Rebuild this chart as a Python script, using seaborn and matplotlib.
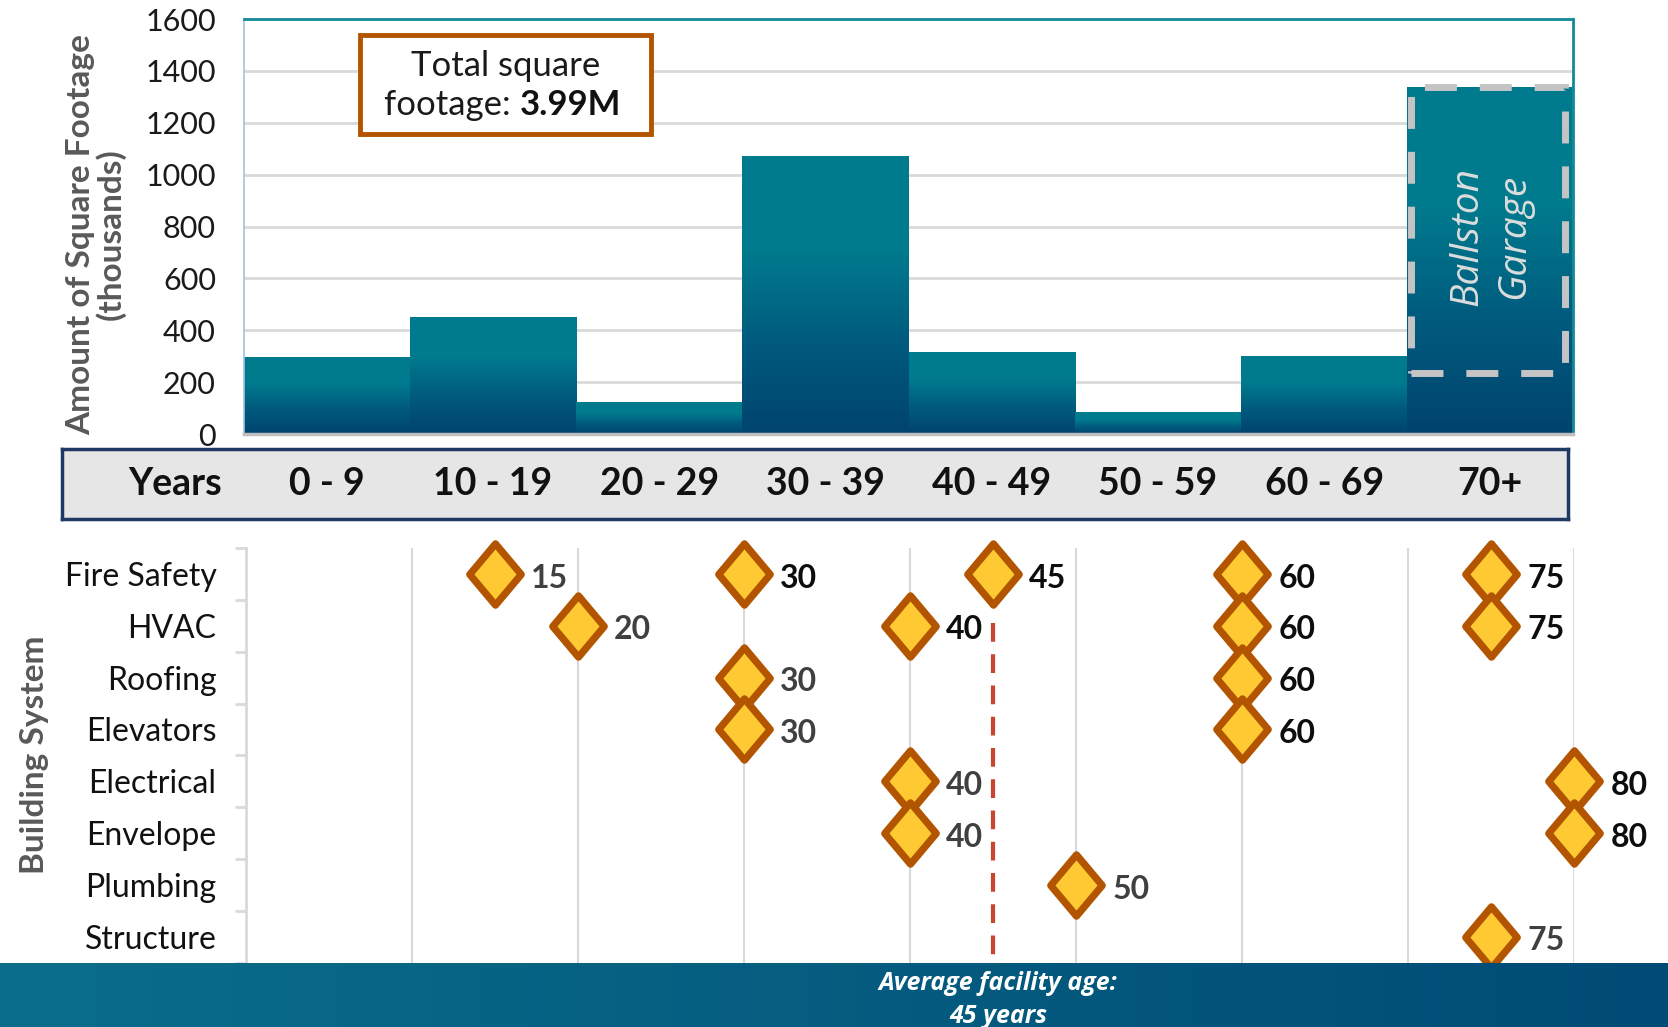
import numpy as np
import pandas as pd
import matplotlib
matplotlib.use("Agg")
import matplotlib.pyplot as plt
import seaborn as sns
from matplotlib.colors import LinearSegmentedColormap
from matplotlib.patches import Rectangle
from matplotlib.path import Path
from matplotlib.transforms import blended_transform_factory

# ---- data ----
decades = ["0 - 9", "10 - 19", "20 - 29", "30 - 39", "40 - 49", "50 - 59", "60 - 69", "70+"]
sqft = [295, 451, 123, 1071, 316, 82, 300, 1337]   # thousands of sq ft
garage_sqft = 1100                                 # Ballston Garage share of 70+
total_label = "3.99M"

systems = ["Fire Safety", "HVAC", "Roofing", "Elevators",
           "Electrical", "Envelope", "Plumbing", "Structure"]
pt_system = (["Fire Safety"] * 5 + ["HVAC"] * 4 + ["Roofing"] * 2 + ["Elevators"] * 2
             + ["Electrical"] * 2 + ["Envelope"] * 2 + ["Plumbing", "Structure"])
pt_age = [15, 30, 45, 60, 75,
          20, 40, 60, 75,
          30, 60,
          30, 60,
          40, 80,
          40, 80,
          50,
          75]
pt_dark = [False, True, True, True, True,
           False, True, True, True,
           False, True,
           False, True,
           False, True,
           False, True,
           False,
           False]
avg_age = 45

# ---- style ----
sns.set_theme(style="white")
plt.rcParams["font.family"] = ["Lato", "DejaVu Sans"]

TEAL = "#007B8E"
NAVY = "#00446F"
ORANGE = "#B35500"
YELLOW = "#FFC933"
GRID = "#D9D9D9"
LABEL_GRAY = "#595959"

W, H = 1668, 1027
fig = plt.figure(figsize=(W / 100, H / 100), dpi=100)
fig.patch.set_facecolor("white")

# ================= top chart =================
ax = fig.add_axes([0.1461, 0.5774, 0.9433 - 0.1461, 0.9814 - 0.5774])
sns.barplot(x=decades, y=sqft, width=1.0, color=TEAL, ax=ax, saturation=1)
bar_cmap = LinearSegmentedColormap.from_list("bar", [NAVY, "#005B7E", TEAL, TEAL])
grad = np.linspace(0, 1, 256).reshape(-1, 1)
for p in ax.patches:
    x0, w, h = p.get_x(), p.get_width(), p.get_height()
    ax.imshow(grad, cmap=bar_cmap, origin="lower", aspect="auto",
              extent=(x0, x0 + w, 0, h), zorder=1)
    p.set_visible(False)

ax.set_xlim(-0.5, len(decades) - 0.5)
ax.set_ylim(0, 1600)
ax.set_yticks(range(0, 1601, 200))
ax.tick_params(axis="y", length=0, pad=20, labelsize=22, labelcolor="#1a1a1a")
ax.set_xticks([])
ax.set_xlabel("")
ax.set_axisbelow(True)
ax.yaxis.grid(True, color=GRID, lw=2)
for s in ["top", "right"]:
    ax.spines[s].set_color("#128A9A")
    ax.spines[s].set_linewidth(2)
ax.spines["left"].set_color("#9FC5E0")
ax.spines["left"].set_linewidth(1.2)
ax.spines["bottom"].set_color("#BFBFBF")
ax.spines["bottom"].set_linewidth(2.5)

# Ballston Garage dashed outline inside the 70+ bar
last = len(decades) - 1
ax.add_patch(Rectangle((last - 0.48, sqft[last] - garage_sqft), 0.93, garage_sqft,
                       fill=False, edgecolor="#C4C4C4", lw=5,
                       linestyle=(0, (4.6, 3.3)), zorder=3))
ax.text(last, sqft[last] - garage_sqft / 2 - 24, "Ballston\nGarage", rotation=90,
        ha="center", va="center", fontsize=28, style="italic", color="#DCDCDC",
        linespacing=1.3, zorder=4, family=["Open Sans", "DejaVu Sans"])

# total square footage box
ax.add_patch(Rectangle((0.2, 1157), 1.75, 381, facecolor="white",
                       edgecolor=ORANGE, lw=3.5, zorder=5))
ax.text(1.075, 1418, "Total square", ha="center", va="center", fontsize=25,
        color="#1a1a1a", zorder=6)
ax.text(1.16, 1270, "footage: ", ha="right", va="center", fontsize=25,
        color="#1a1a1a", zorder=6)
ax.text(1.16, 1270, total_label, ha="left", va="center", fontsize=25,
        fontweight="bold", color="#111111", zorder=6)

fig.text(0.0575, 0.772, "Amount of Square Footage\n(thousands)", rotation=90,
         ha="center", va="center", multialignment="center", fontsize=24,
         fontweight="bold", color=LABEL_GRAY, linespacing=1.0)

# ================= years band =================
band = fig.add_axes([0.037, 0.4946, 0.940 - 0.037, 0.5628 - 0.4946])
band.set_facecolor("#E6E6E6")
band.set_xticks([])
band.set_yticks([])
for s in band.spines.values():
    s.set_color("#1F3864")
    s.set_linewidth(2.5)
trans = blended_transform_factory(ax.transData, fig.transFigure)
fig.text(0.105, 0.5287, "Years", ha="center", va="center", fontsize=27,
         fontweight="bold", color="#111111")
for i, lab in enumerate(decades):
    fig.text(i, 0.5287, lab, transform=trans, ha="center", va="center",
             fontsize=27, fontweight="bold", color="#111111")

# ================= building systems =================
b_left, b_right = 0.1473, 0.9439
ax2 = fig.add_axes([b_left, 0.0626, b_right - b_left, 0.4664 - 0.0626])
pts = pd.DataFrame({"age": pt_age,
                    "row": [systems.index(s) for s in pt_system]})
diamond = Path([(0, 1), (0.84, 0), (0, -1), (-0.84, 0), (0, 1)],
               [Path.MOVETO, Path.LINETO, Path.LINETO, Path.LINETO, Path.CLOSEPOLY])
sns.scatterplot(data=pts, x="age", y="row", marker=diamond, s=1950,
                color=YELLOW, edgecolor=ORANGE, linewidth=5.2, ax=ax2,
                zorder=5, clip_on=False, legend=False)
for age, row, dark in zip(pt_age, pts["row"], pt_dark):
    ax2.annotate(str(age), (age, row), xytext=(26, -3), textcoords="offset points",
                 ha="left", va="center", fontsize=23, fontweight="bold",
                 color="#0d0d0d" if dark else "#404040", zorder=6,
                 annotation_clip=False)

ax2.plot([avg_age, avg_age], [0.95, len(systems) - 0.5], color="#C9452E", lw=3,
         linestyle=(0, (4.5, 3)), zorder=2)

ax2.set_xlim(0, 80)
ax2.set_ylim(len(systems) - 0.5, -0.5)
ax2.set_xticks(range(0, 81, 10))
ax2.set_xticklabels([])
ax2.tick_params(axis="x", length=0)
ax2.set_yticks(range(len(systems)))
ax2.set_yticklabels(systems)
ax2.set_yticks(np.arange(-0.5, len(systems)), minor=True)
ax2.tick_params(axis="y", which="major", length=0, pad=21, labelsize=23,
                labelcolor="#111111")
ax2.tick_params(axis="y", which="minor", length=8, width=2, color=GRID, left=True)
ax2.xaxis.grid(True, color=GRID, lw=1.5)
ax2.set_axisbelow(True)
ax2.set_xlabel("")
ax2.set_ylabel("")
for s in ["top", "right", "bottom"]:
    ax2.spines[s].set_visible(False)
ax2.spines["left"].set_color(GRID)
ax2.spines["left"].set_linewidth(2)

fig.text(0.0204, 0.265, "Building System", rotation=90, ha="center", va="center",
         fontsize=24, fontweight="bold", color=LABEL_GRAY)

# ================= bottom banner =================
ban = fig.add_axes([0, 0, 1, 0.0626], zorder=10)
ban_cmap = LinearSegmentedColormap.from_list("ban", ["#0A6E8B", "#004B75"])
ban.imshow(np.linspace(0, 1, 256).reshape(1, -1), cmap=ban_cmap, aspect="auto",
           extent=(0, 1, 0, 1))
ban.set_xlim(0, 1)
ban.set_ylim(0, 1)
ban.axis("off")
bx = b_left + (b_right - b_left) * avg_age / 80 + 0.003
ban.text(bx, 0.42, f"Average facility age:\n{avg_age} years", ha="center",
         va="center", fontsize=18, fontweight="bold", style="italic",
         color="white", linespacing=1.45, family=["Open Sans", "DejaVu Sans"])

fig.savefig("out.png", dpi=100)
